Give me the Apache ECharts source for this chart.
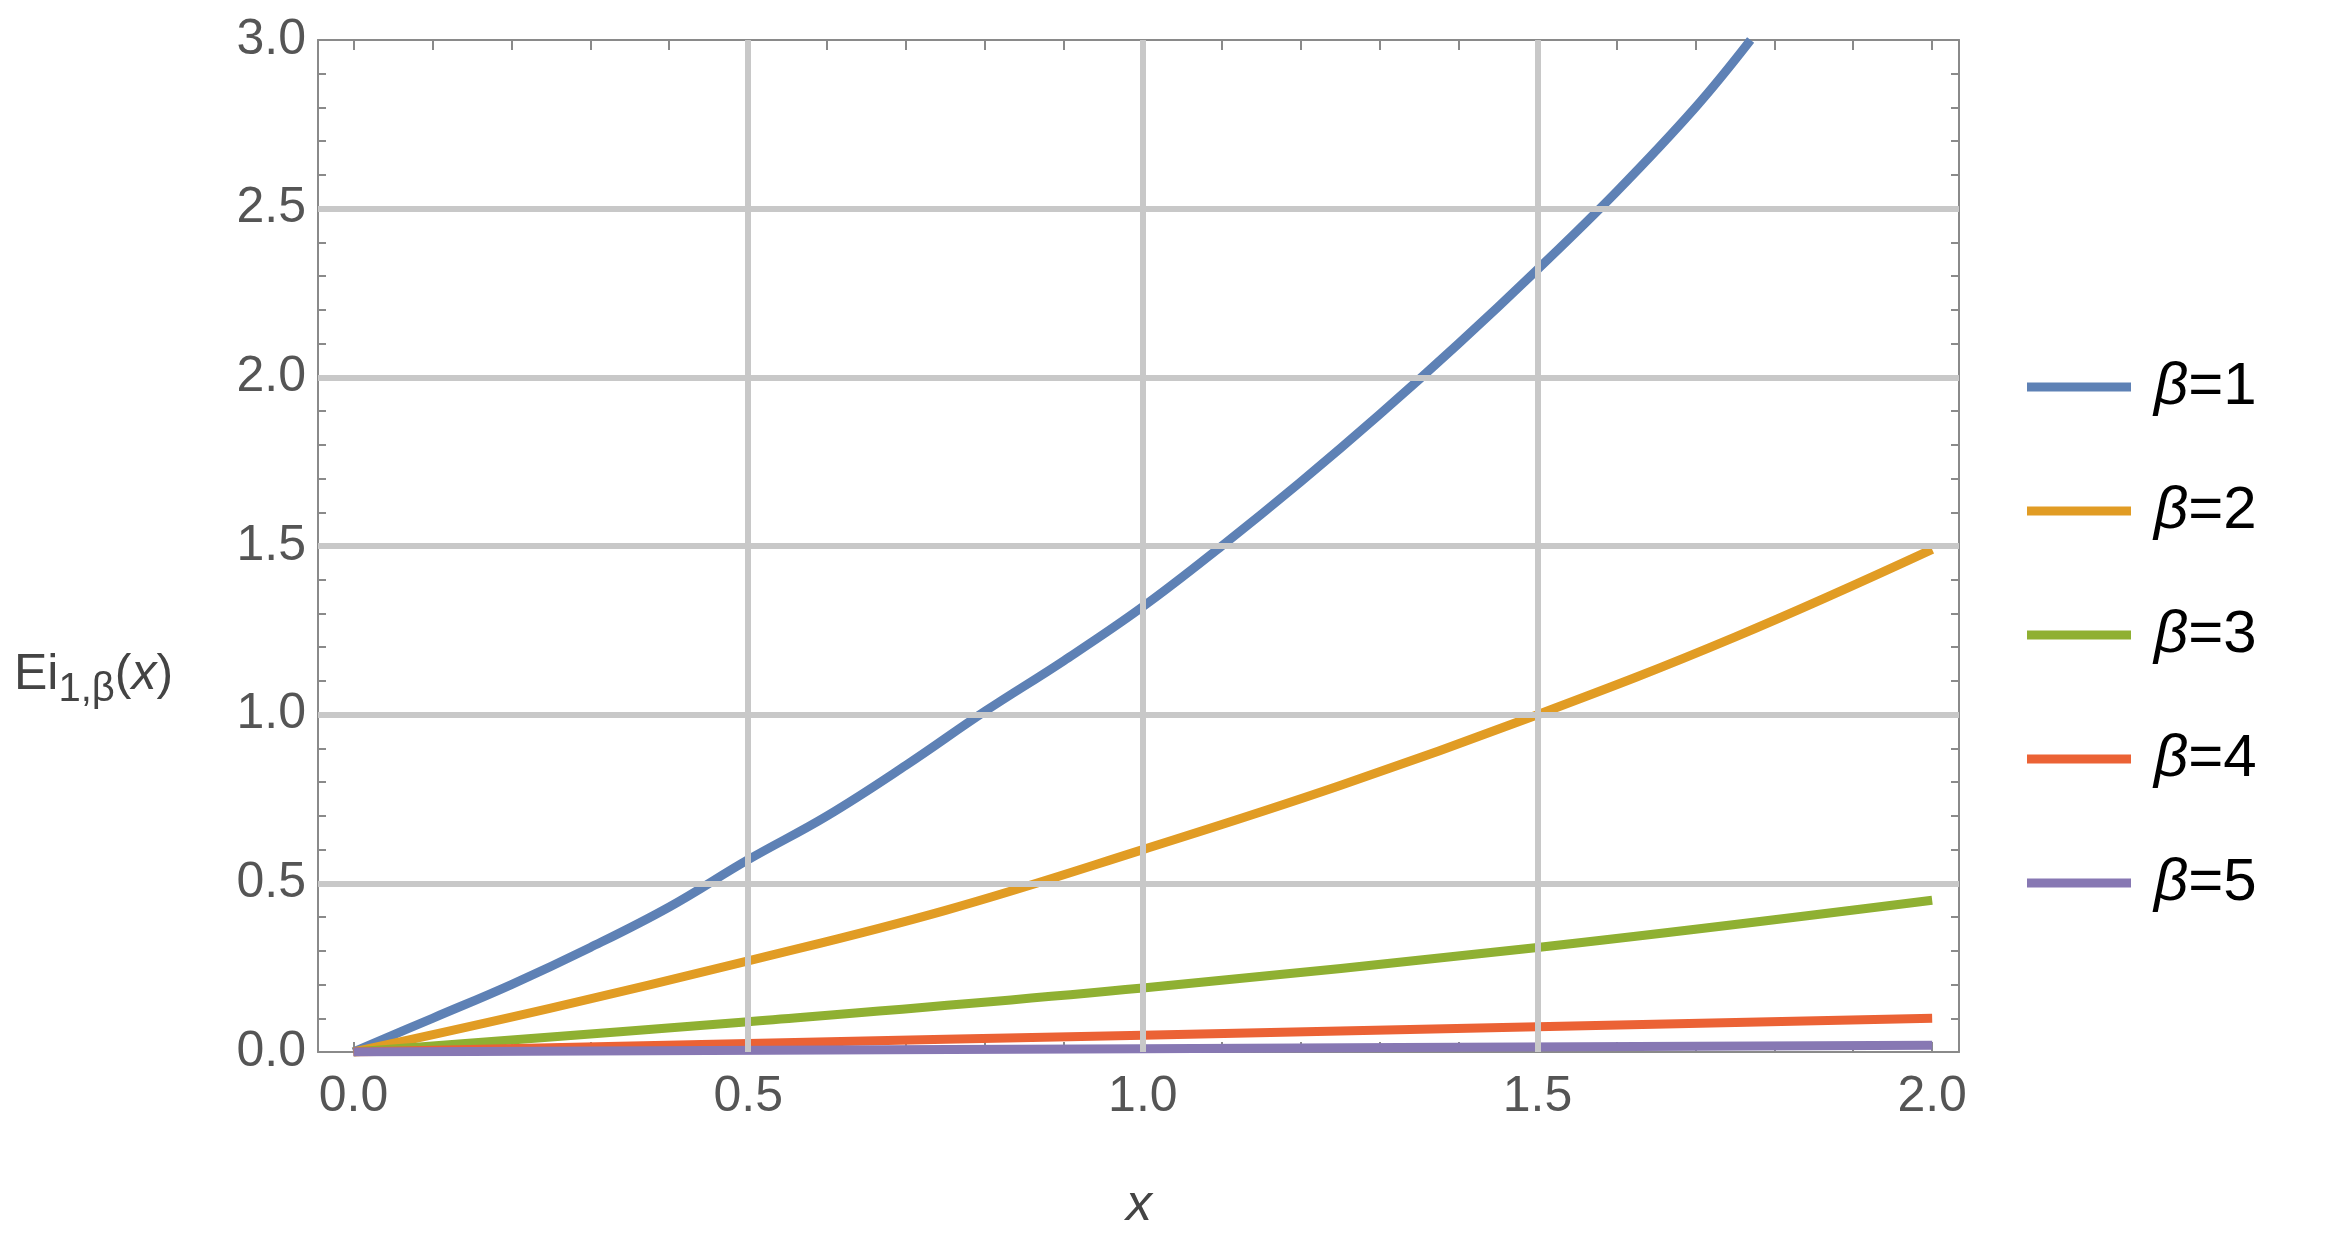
<!DOCTYPE html>
<html><head><meta charset="utf-8">
<script src="https://cdn.jsdelivr.net/npm/echarts@6/dist/echarts.min.js"></script>
<style>html,body{margin:0;background:#fff}#c{width:2340px;height:1245px}</style>
</head><body><div id="c"></div>
<script>
const xTickLabels = [0, 0.5, 1, 1.5, 2];
const xGridLines = [0.5, 1, 1.5];
const yGridLines = [0.5, 1, 1.5, 2, 2.5];
const seriesNames = ['β=1','β=2','β=3','β=4','β=5'];
const colors = ['#5e81b5','#e19c24','#8fb032','#eb6235','#8778b3'];
const b1 = [[0,0],[0.1,0.1],[0.2,0.2],[0.3,0.31],[0.4,0.43],[0.5,0.57],[0.6,0.7],[0.7,0.85],[0.8,1.01],[0.9,1.16],[1.0,1.32],[1.1,1.5],[1.2,1.69],[1.3,1.89],[1.4,2.1],[1.5,2.32],[1.6,2.55],[1.7,2.8],[1.77,3.0]];
const b2 = [[0,0],[0.25,0.13],[0.5,0.27],[0.75,0.42],[1.0,0.6],[1.25,0.79],[1.5,1.0],[1.75,1.23],[2.0,1.49]];
const b3 = [[0,0],[0.5,0.09],[1.0,0.19],[1.5,0.31],[2.0,0.45]];
const b4 = [[0,0],[0.5,0.025],[1.0,0.05],[1.5,0.075],[2.0,0.1]];
const b5 = [[0,0],[1.0,0.01],[2.0,0.02]];
const data = [b1,b2,b3,b4,b5];
const minorX = []; for (let i=0;i<=20;i++) minorX.push(+(i*0.1).toFixed(1));

const frame = '#8a8a8a';
function xAx(pos, labels){
  return {type:'value', position:pos, min:-0.045, max:2.034,
    axisLine:{show:true,onZero:false,lineStyle:{color:frame,width:2}},
    axisTick:{show:true,inside:true,length:10,customValues:minorX,lineStyle:{color:frame,width:2}},
    axisLabel:{show:labels,customValues:xTickLabels,color:'#555',fontSize:50,fontFamily:'Liberation Sans',margin:20,
      formatter:v=>v.toFixed(1)},
    splitLine:{show:false}};
}
function yAx(pos, labels){
  return {type:'value', position:pos, min:0, max:3, interval:0.5,
    axisLine:{show:true,onZero:false,lineStyle:{color:frame,width:2}},
    axisTick:{show:true,inside:true,length:14,lineStyle:{color:frame,width:2}},
    minorTick:{show:true,splitNumber:5,length:8,lineStyle:{color:frame,width:2}},
    axisLabel:{show:labels,color:'#555',fontSize:50,fontFamily:'Liberation Sans',margin:12,formatter:v=>v.toFixed(1)},
    splitLine:{show:false}};
}
const series = [{
  type:'line', data:[], silent:true, z:1,
  markLine:{symbol:'none',silent:true,label:{show:false},animation:false,
    lineStyle:{color:'#c8c8c8',width:6,type:'solid'},
    data:[...xGridLines.map(v=>({xAxis:v})),...yGridLines.map(v=>({yAxis:v}))]}
}];
seriesNames.forEach((n,i)=>series.push({name:n,type:'line',data:data[i],smooth:0.4,showSymbol:false,
  lineStyle:{width:9,color:colors[i]},itemStyle:{color:colors[i]},clip:true,z:3}));

const chart = echarts.init(document.getElementById('c'));
chart.setOption({
  animation:false,
  grid:{left:318,right:381,top:40,bottom:193},
  xAxis:[xAx('bottom',true),xAx('top',false)],
  yAxis:[yAx('left',true),yAx('right',false)],
  legend:{orient:'vertical',left:2022,top:352,itemGap:64,itemWidth:104,itemHeight:9,icon:'rect',
    data:seriesNames,
    formatter:n=>'{b|β}{t|'+n.slice(1)+'}',
    textStyle:{padding:[0,0,0,18],rich:{b:{fontSize:60,fontStyle:'italic',fontFamily:'Liberation Sans',color:'#000'},
      t:{fontSize:60,fontFamily:'Liberation Sans',color:'#000'}}}},
  graphic:[
    {type:'text',left:14,top:650,style:{text:'{a|Ei}{s|1,β}{a|(}{i|x}{a|)}',
      rich:{a:{fontSize:50,fontFamily:'Liberation Sans',fill:'#444'},
            i:{fontSize:50,fontFamily:'Liberation Sans',fontStyle:'italic',fill:'#444'},
            s:{fontSize:40,fontFamily:'Liberation Sans',fill:'#444',verticalAlign:'bottom',padding:[30,0,0,0]}}}},
    {type:'text',left:1126,top:1180,style:{text:'x',fontSize:52,fontStyle:'italic',fontFamily:'Liberation Sans',fill:'#444'}}
  ],
  series
});
</script></body></html>
